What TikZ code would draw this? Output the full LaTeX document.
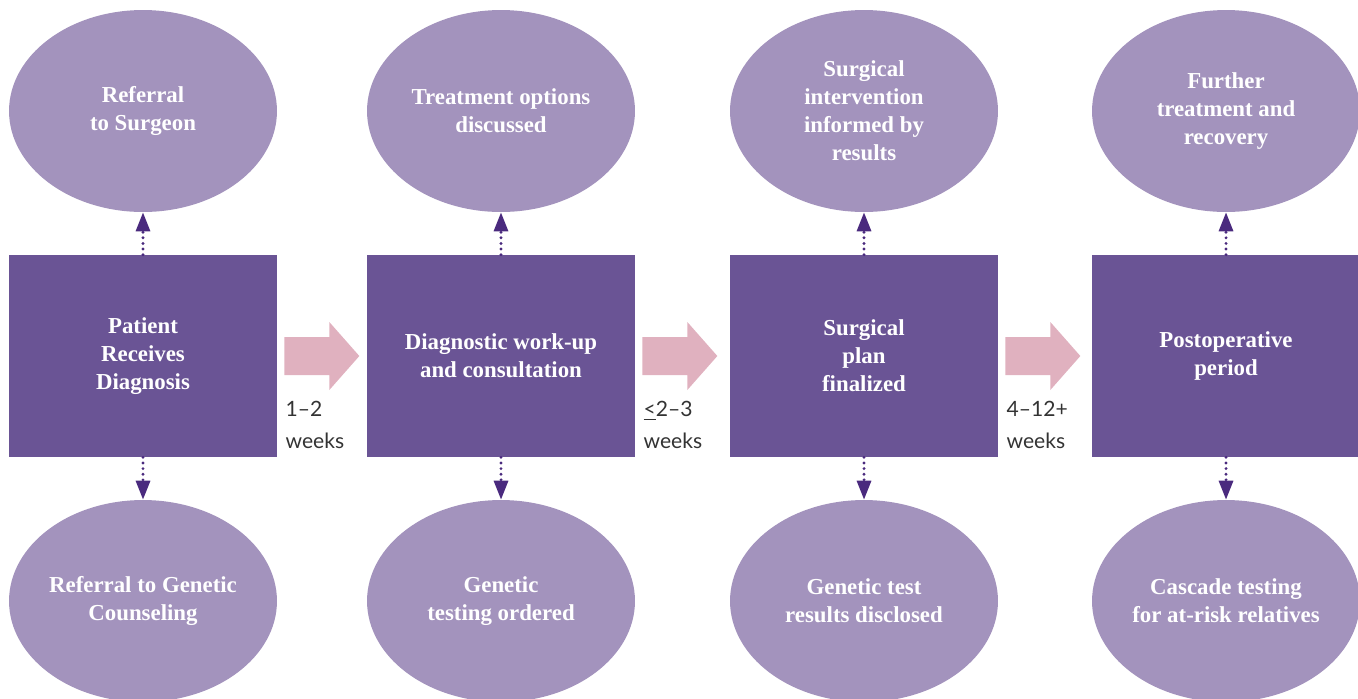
\documentclass[tikz,border=0pt]{standalone}
\usepackage{fontspec}
\setmainfont{Liberation Serif}
\newfontfamily\weekfont[Ligatures=TeX]{Lato}
\usepackage{tikz}
\usetikzlibrary{shapes.geometric,arrows.meta}
\definecolor{boxpurple}{HTML}{6A5495}
\definecolor{ovalpurple}{HTML}{A393BD}
\definecolor{dotpurple}{HTML}{4A2A7E}
\definecolor{steppink}{HTML}{E0B1BF}
\definecolor{weekgray}{HTML}{333333}

\begin{document}
\begin{tikzpicture}[x=0.02cm,y=-0.02cm]
        \tikzset{
        path node/.style={rectangle,fill=boxpurple,minimum width=5.36cm,minimum height=4.04cm,inner sep=0,
            text=white,align=center,font=\fontsize{13}{15.9}\selectfont\bfseries},
        oval node/.style={ellipse,fill=ovalpurple,minimum width=5.36cm,minimum height=4.04cm,inner sep=0,
            text=white,align=center,font=\fontsize{13}{15.9}\selectfont\bfseries},
        week node/.style={anchor=north west,align=left,inner sep=0,text=weekgray,
            font=\weekfont\fontsize{12}{18.2}\selectfont},
        dot edge/.style={draw=dotpurple,line width=1.8pt,line cap=round,dash pattern=on 0pt off 3.2pt,
            -{Triangle[width=2.8mm,length=3.8mm]}},
        week arrow/.style={fill=steppink}
        }
        \useasboundingbox (0,0) rectangle (1358,698);

        \node[path node] (1) at (143, 356) {Patient\\Receives\\Diagnosis};
        \node[path node] (2) at (501, 356) {Diagnostic work-up\\and consultation};
        \node[path node] (3) at (864, 356) {Surgical\\plan\\finalized};
        \node[path node] (4) at (1226, 356) {Postoperative\\period};

        \node[oval node] (1t) at (143, 111) {Referral\\to Surgeon};
        \node[oval node] (2t) at (501, 111) {Treatment options\\discussed};
        \node[oval node] (3t) at (864, 111) {Surgical\\intervention\\informed by\\results};
        \node[oval node] (4t) at (1226, 111) {Further\\treatment and\\recovery};

        \node[oval node] (1b) at (143, 601) {Referral to Genetic\\Counseling};
        \node[oval node] (2b) at (501, 601) {Genetic\\testing ordered};
        \node[oval node] (3b) at (864, 601) {Genetic test\\results disclosed};
        \node[oval node] (4b) at (1226, 601) {Cascade testing\\for at-risk relatives};

        % pink step arrows
        \foreach \a in {1,2,3}{
            \fill[week arrow] (\a.east) ++(7,-19) -- ++(45,0) -- ++(0,-15) -- ++(30,34)
                -- ++(-30,34) -- ++(0,-15) -- ++(-45,0) -- cycle;
        }

        \node[week node] (1w) at ([shift={(8,45)}]1.east) {1--2\\weeks};
        \node[week node] (2w) at ([shift={(8,45)}]2.east) {\underline{<}2--3\\weeks};
        \node[week node] (3w) at ([shift={(8,45)}]3.east) {4--12+\\weeks};

        \path
        (1) edge[dot edge] (1t)
        (2) edge[dot edge] (2t)
        (3) edge[dot edge] (3t)
        (4) edge[dot edge] (4t)
        (1) edge[dot edge] (1b)
        (2) edge[dot edge] (2b)
        (3) edge[dot edge] (3b)
        (4) edge[dot edge] (4b)
        ;
    \end{tikzpicture}
\end{document}
